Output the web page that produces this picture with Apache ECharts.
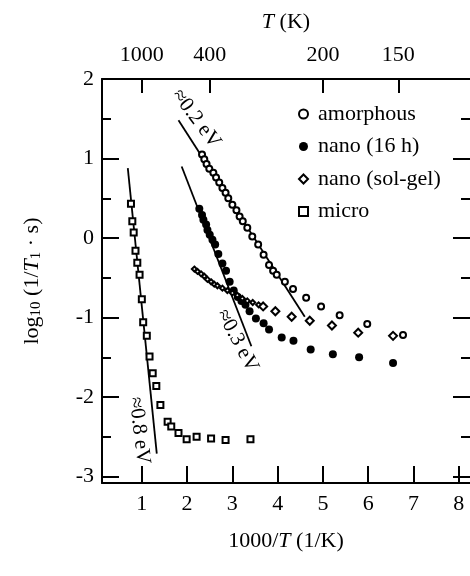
<!DOCTYPE html>
<html><head><meta charset="utf-8">
<script src="https://cdn.jsdelivr.net/npm/echarts@6/dist/echarts.min.js"></script>
<style>html,body{margin:0;padding:0;background:#fff}#c{width:470px;height:576px}</style>
</head><body><div id="c"></div>
<script>
// ---- data (x = 1000/T in 1/K, y = log10(1/T1 s)) ----
const amorphous = [[2.33,1.05],[2.38,0.99],[2.43,0.93],[2.49,0.87],[2.58,0.82],[2.64,0.76],[2.71,0.70],[2.78,0.63],[2.85,0.57],[2.91,0.50],[3.00,0.42],[3.09,0.35],[3.16,0.27],[3.23,0.21],[3.33,0.13],[3.44,0.02],[3.57,-0.08],[3.69,-0.21],[3.81,-0.34],[3.90,-0.41],[3.98,-0.46],[4.16,-0.55],[4.34,-0.64],[4.63,-0.75],[4.96,-0.86],[5.37,-0.97],[5.98,-1.08],[6.77,-1.22]];
const nano16h = [[2.27,0.37],[2.33,0.29],[2.36,0.23],[2.42,0.17],[2.45,0.10],[2.50,0.04],[2.56,-0.02],[2.62,-0.08],[2.69,-0.20],[2.78,-0.32],[2.86,-0.41],[2.94,-0.55],[3.03,-0.66],[3.12,-0.74],[3.20,-0.79],[3.29,-0.84],[3.38,-0.92],[3.52,-1.01],[3.69,-1.07],[3.81,-1.15],[4.09,-1.25],[4.35,-1.29],[4.73,-1.40],[5.22,-1.46],[5.80,-1.50],[6.55,-1.57]];
const nanoSolGel = [[2.16,-0.39],[2.23,-0.42],[2.31,-0.45],[2.38,-0.48],[2.45,-0.52],[2.53,-0.55],[2.60,-0.58],[2.67,-0.60],[2.78,-0.63],[2.89,-0.66],[3.00,-0.69],[3.11,-0.72],[3.22,-0.76],[3.33,-0.79],[3.45,-0.81],[3.58,-0.84],[3.68,-0.86],[3.95,-0.92],[4.31,-0.99],[4.71,-1.04],[5.20,-1.10],[5.78,-1.19],[6.55,-1.23]];
const micro = [[0.76,0.43],[0.79,0.21],[0.82,0.07],[0.86,-0.16],[0.90,-0.31],[0.95,-0.46],[1.00,-0.77],[1.03,-1.06],[1.11,-1.23],[1.17,-1.49],[1.24,-1.70],[1.32,-1.86],[1.41,-2.10],[1.57,-2.31],[1.65,-2.37],[1.81,-2.45],[1.99,-2.53],[2.21,-2.50],[2.53,-2.52],[2.85,-2.54],[3.40,-2.53]];
const fit02 = [[1.81,1.48],[4.60,-0.99]];
const fit03 = [[1.88,0.90],[3.42,-1.36]];
const fit08 = [[0.69,0.88],[1.33,-2.71]];
const seriesNames = ['amorphous','nano (16 h)','nano (sol-gel)','micro'];
const bottomTicks = [1,2,3,4,5,6,7,8];
const topTicksK = [1000,400,200,150];
const yMajor = [-3,-2,-1,0,1,2];
const yMinor = [-2.5,-1.5,-0.5,0.5,1.5];
const energyLabels = ['≈0.2 eV','≈0.3 eV','≈0.8 eV'];
const energyAnchors = [[2.20,1.50],[3.11,-1.29],[0.94,-2.42]];
const energyAngles = [-53,-62,-83];

const FONT = '"Liberation Serif","DejaVu Serif",serif';
const BLACK = '#000';
const XMIN = 0.12, XMAX = 8.25, YMIN = -3.08, YMAX = 2;

const chart = echarts.init(document.getElementById('c'), null, {renderer:'canvas'});

function tickAxis(pos, vals, len) {
  return {
    type:'value', position:pos, min:YMIN, max:YMAX,
    axisLine:{show:false, onZero:false, lineStyle:{color:BLACK, width:2}},
    axisTick:{show:true, inside:true, length:len, customValues:vals, lineStyle:{color:BLACK, width:2}},
    axisLabel:{show:false}, splitLine:{show:false}
  };
}

const option = {
  backgroundColor:'#fff',
  animation:false,
  grid:{left:102, top:79, width:372, height:404, containLabel:false},
  legend:{
    data:seriesNames, orient:'vertical', left:293, top:98,
    itemWidth:9, itemHeight:9, itemGap:10.5,
    textStyle:{fontFamily:FONT, fontSize:22, color:BLACK, lineHeight:22, padding:[0,0,0,5]}
  },
  xAxis:[
    {
      type:'value', position:'bottom', min:XMIN, max:XMAX,
      name:'{n|1000/}{i|T}{n| (1/K)}', nameLocation:'middle', nameGap:47,
      nameTextStyle:{rich:{n:{fontFamily:FONT,fontSize:22,color:BLACK}, i:{fontFamily:FONT,fontSize:22,fontStyle:'italic',color:BLACK}}},
      axisLine:{onZero:false, lineStyle:{color:BLACK, width:2}},
      axisTick:{inside:true, length:17, customValues:bottomTicks, lineStyle:{color:BLACK, width:2}},
      axisLabel:{customValues:bottomTicks, fontFamily:FONT, fontSize:22, color:BLACK, margin:10},
      splitLine:{show:false}
    },
    {
      type:'value', position:'top', min:XMIN, max:XMAX,
      name:'{i|T}{n| (K)}', nameLocation:'middle', nameGap:46,
      nameTextStyle:{rich:{n:{fontFamily:FONT,fontSize:22,color:BLACK}, i:{fontFamily:FONT,fontSize:22,fontStyle:'italic',color:BLACK}}},
      axisLine:{onZero:false, lineStyle:{color:BLACK, width:2}},
      axisTick:{inside:true, length:14, customValues:topTicksK.map(t=>1000/t), lineStyle:{color:BLACK, width:2}},
      axisLabel:{customValues:topTicksK.map(t=>1000/t), formatter:v=>String(Math.round(1000/v)), fontFamily:FONT, fontSize:22, color:BLACK, margin:13},
      splitLine:{show:false}
    }
  ],
  yAxis:[
    {
      type:'value', position:'left', min:YMIN, max:YMAX,
      name:'{n|log}{s|10}{n| (1/}{i|T}{s|1}{n| · s)}', nameLocation:'middle', nameGap:58, nameRotate:90,
      nameTextStyle:{rich:{
        n:{fontFamily:FONT,fontSize:22,color:BLACK},
        i:{fontFamily:FONT,fontSize:22,fontStyle:'italic',color:BLACK},
        s:{fontFamily:FONT,fontSize:15,color:BLACK,verticalAlign:'bottom',padding:[8,0,0,0]}
      }},
      axisLine:{onZero:false, lineStyle:{color:BLACK, width:2}},
      axisTick:{inside:true, length:17, customValues:yMajor, lineStyle:{color:BLACK, width:2}},
      axisLabel:{customValues:yMajor, fontFamily:FONT, fontSize:22, color:BLACK, margin:8},
      splitLine:{show:false}
    },
    tickAxis('left', yMinor, 9),
    tickAxis('right', yMajor, 17),
    tickAxis('right', yMinor, 9)
  ],
  series:[
    {name:seriesNames[0], type:'scatter', data:amorphous, symbol:'circle', symbolSize:6,
     itemStyle:{color:'#fff', borderColor:BLACK, borderWidth:2, opacity:1}, z:5},
    {name:seriesNames[1], type:'scatter', data:nano16h, symbol:'circle', symbolSize:8,
     itemStyle:{color:BLACK, borderColor:BLACK, borderWidth:0, opacity:1}, z:5},
    {name:seriesNames[2], type:'scatter', data:nanoSolGel, symbol:'diamond', symbolSize:v=>v[0]<3.6?5:8,
     itemStyle:{color:'#fff', borderColor:BLACK, borderWidth:2, opacity:1}, z:5},
    {name:seriesNames[3], type:'scatter', data:micro, symbol:'rect', symbolSize:6,
     itemStyle:{color:'#fff', borderColor:BLACK, borderWidth:2, opacity:1}, z:5},
    {type:'line', data:fit02, symbol:'none', lineStyle:{color:BLACK, width:1.8}, silent:true, z:3},
    {type:'line', data:fit03, symbol:'none', lineStyle:{color:BLACK, width:1.8}, silent:true, z:3},
    {type:'line', data:fit08, symbol:'none', lineStyle:{color:BLACK, width:1.8}, silent:true, z:3},
    {type:'scatter', symbolSize:0, silent:true, z:6, itemStyle:{opacity:1},
     data:energyAnchors.map((p,i)=>({value:p, label:{show:true, position:'inside', formatter:energyLabels[i], rotate:energyAngles[i], fontFamily:FONT, fontSize:21, color:BLACK, opacity:1}}))}
  ]
};
chart.setOption(option);
</script></body></html>
